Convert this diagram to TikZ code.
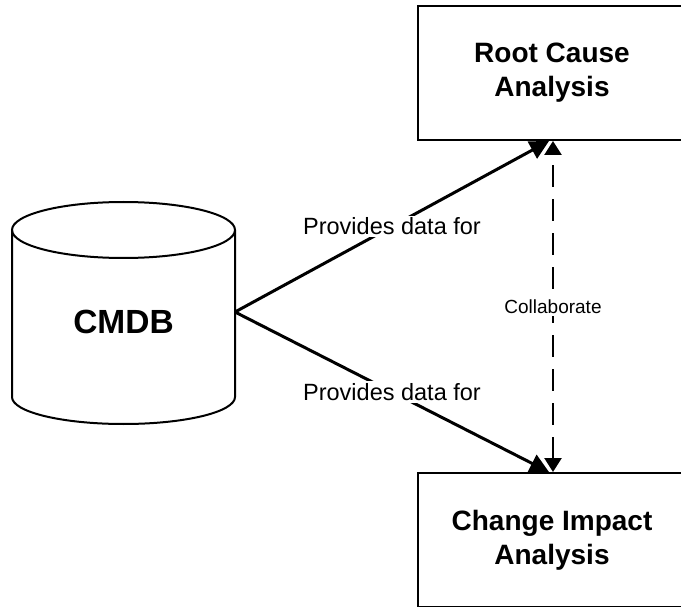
\documentclass[tikz,border=0pt]{standalone}
\usepackage{fontspec}
\setmainfont{Liberation Sans}
\usetikzlibrary{arrows.meta}

\tikzset{
  boxlabel/.style={font=\fontsize{28}{34}\selectfont\bfseries, align=center, xshift=-5pt},
  analysis/.style={draw, line width=2pt, rectangle, minimum width=278pt,
    minimum height=134pt, inner sep=0pt},
  feed/.style={line width=3pt, -{Triangle[length=19pt, width=19pt]}},
  collab/.style={line width=2.5pt, dash pattern=on 22pt off 12pt,
    {Triangle[length=14pt, width=17pt]}-{Triangle[length=14pt, width=17pt]}},
  edgetext/.style={fill=white, inner sep=2pt, font=\fontsize{23.5}{28}\selectfont},
  smalltext/.style={fill=white, inner sep=3pt, font=\fontsize{19}{23}\selectfont},
  drum/.style={line width=2pt}
}

\begin{document}
\begin{tikzpicture}[x=1pt, y=-1pt]
  \useasboundingbox (0,0) rectangle (681,607);

  % database drum
  \draw[drum, fill=white] (12,230) -- (12,397)
    arc[start angle=180, end angle=360, x radius=111.5pt, y radius=27pt]
    -- (235,230);
  \draw[drum] (123.5,230) ellipse[x radius=111.5pt, y radius=28pt];
  \node[font=\fontsize{33.5}{40}\selectfont\bfseries] (cmdb) at (123.5,322) {CMDB};
  \coordinate (cmdbR) at (235,312);

  % analysis boxes (their right sides run past the page edge)
  \node[analysis, label={[boxlabel]center:Root Cause\\Analysis}] (rca) at (557,73) {};
  \node[analysis, label={[boxlabel]center:Change Impact\\Analysis}] (cia) at (557,540) {};

  % data feeds
  \draw[feed] (cmdbR) -- ([xshift=-8pt]rca.south)
    node[edgetext, midway] (lblA) {Provides data for};
  \draw[feed] (cmdbR) -- ([xshift=-8pt]cia.north)
    node[edgetext, midway] (lblB) {Provides data for};

  % collaboration link
  \draw[collab] ([xshift=-4pt]cia.north) -- ([xshift=-4pt]rca.south)
    node[smalltext, pos=0.5] (lblC) {Collaborate};
\end{tikzpicture}
\end{document}
